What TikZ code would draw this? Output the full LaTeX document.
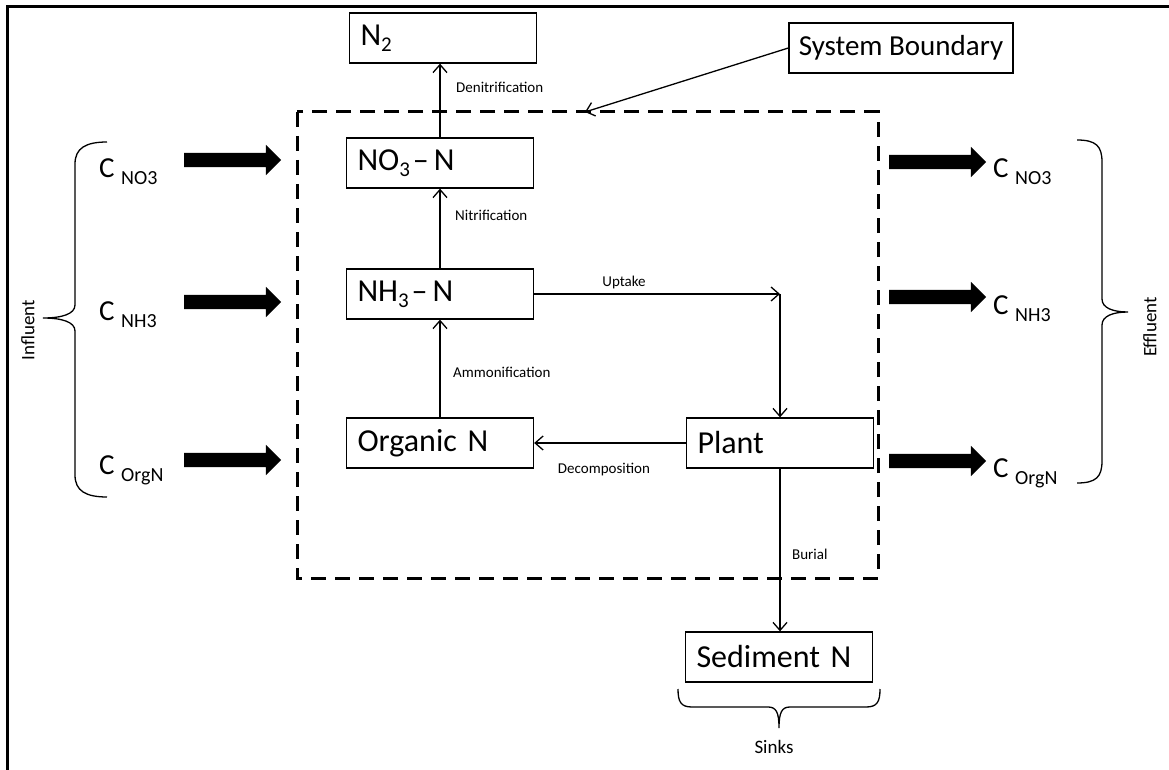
\documentclass[tikz,border=0pt]{standalone}
\usepackage{fontspec}
\setmainfont{Carlito}
\usepackage{tikz}
\usetikzlibrary{arrows.meta,positioning,shapes.arrows}
\newcommand{\nitlow}[1]{\raisebox{-6pt}{\fontsize{21}{21}\selectfont #1}}
\newcommand{\nitconc}[1]{C {\fontsize{20}{20}\selectfont\raisebox{-7pt}{#1}}}
\tikzset{%
  nitbox/.style={%
    draw,
    line width=1.3pt,
    minimum height=50pt,
    text width=165pt,
    inner xsep=11pt,
    align=left,
    font=\fontsize{32}{38}\selectfont
  },
  nitnote/.style={%
    draw,
    line width=1.3pt,
    minimum height=50pt,
    minimum width=224pt,
    align=center,
    font=\fontsize{29}{34}\selectfont
  },
  nitlabel/.style={font=\fontsize{15}{18}\selectfont, inner sep=0pt},
  nitside/.style={font=\fontsize{19}{22}\selectfont, inner sep=0pt},
  nitconcstyle/.style={anchor=base west, inner sep=0pt, font=\fontsize{29}{33}\selectfont},
  nitflow/.style={%
    single arrow,
    fill=black,
    draw=none,
    inner xsep=0pt,
    inner ysep=7pt,
    minimum height=97pt,
    single arrow head extend=8pt
  },
  nitarrow/.style={-{Straight Barb[length=8pt,width=14pt]},line width=1.3pt},
  nitbound/.style={line width=3pt,dash pattern=on 15pt off 9pt},
  nitbrace/.style={line width=1.3pt}
}
\begin{document}
\begin{tikzpicture}[x=1pt,y=-1pt]
    \fill[white] (0,0) rectangle (1169,770);
    \useasboundingbox (0,0) rectangle (1169,770);
    \draw[line width=3pt] (7,770) -- (7,7) -- (1169,7);

    % boundary
    \draw[nitbound] (297,112) rectangle (878,578);

    % pools
    \node[nitbox] (n2) at (443,38) {N\nitlow{2}};
    \node[nitbox] (no3) at (440,163) {NO\nitlow{3}\hspace{3pt}--\hspace{5pt}N};
    \node[nitbox] (nh3) at (440,294) {NH\nitlow{3}\hspace{3pt}--\hspace{5pt}N};
    \node[nitbox] (orgn) at (440,443) {Organic N};
    \node[nitbox] (plant) at (780,443) {Plant};
    \node[nitbox] (sediment) at (779,657) {Sediment N};
    \node[nitnote] (sysb) at (901,48) {System Boundary};

    % processes
    \draw[nitarrow] (no3.north) -- (no3.north |- n2.south);
    \draw[nitarrow] (nh3) -- (no3);
    \draw[nitarrow] (orgn) -- (nh3);
    \coordinate (upbend) at (nh3.east -| plant.north);
    \draw[nitarrow] (nh3.east) -- (upbend);
    \draw[nitarrow] (upbend) -- (plant.north);
    \draw[nitarrow] (plant.west) -- (orgn.east);
    \draw[nitarrow] (plant.south) -- (plant.south |- sediment.north);
    \coordinate (bndhit) at (585,112);
    \draw[nitarrow] (sysb.west) -- (bndhit);

    \node[nitlabel,anchor=west] (dentxt) at (456,87) {Denitrification};
    \node[nitlabel,anchor=west] (nittxt) at (455,215) {Nitrification};
    \node[nitlabel,anchor=west] (ammtxt) at (453,372) {Ammonification};
    \node[nitlabel] (upttxt) at (624,282) {Uptake};
    \node[nitlabel] (dectxt) at (604,470) {Decomposition};
    \node[nitlabel,anchor=west] (burtxt) at (792,554) {Burial};

    % influent
    \node[nitconcstyle] (cno3in) at (99,178) {\nitconc{NO3}};
    \node[nitconcstyle] (cnh3in) at (99,320) {\nitconc{NH3}};
    \node[nitconcstyle] (corgnin) at (99,474) {\nitconc{OrgN}};
    \node[nitflow] (no3in) at (229,160) {};
    \node[nitflow] (nh3in) at (229,302) {};
    \node[nitflow] (orgnin) at (229,460) {};
    \draw[nitbrace] (107,142) .. controls (86,142) and (75,148) .. (75,164) -- (75,305)
      .. controls (75,314) and (62,318) .. (43,318) .. controls (62,318) and (75,322) .. (75,331)
      -- (75,475) .. controls (75,491) and (86,497) .. (107,497);
    \node[nitside,rotate=90] (influent) at (28,330) {Influent};

    % effluent
    \node[nitflow] (no3out) at (934,162) {};
    \node[nitflow] (nh3out) at (934,297) {};
    \node[nitflow] (orgnout) at (934,461) {};
    \node[nitconcstyle] (cno3out) at (993,178) {\nitconc{NO3}};
    \node[nitconcstyle] (cnh3out) at (993,314) {\nitconc{NH3}};
    \node[nitconcstyle] (corgnout) at (993,477) {\nitconc{OrgN}};
    \draw[nitbrace] (1077,140) .. controls (1096,140) and (1102,146) .. (1102,162) -- (1102,299)
      .. controls (1102,308) and (1113,312) .. (1128,312) .. controls (1113,312) and (1102,316) .. (1102,325)
      -- (1102,461) .. controls (1102,477) and (1096,483) .. (1077,483);
    \node[nitside,rotate=90] (effluent) at (1150,327) {Effluent};

    % sinks
    \draw[nitbrace] (678,689) .. controls (678,702) and (681,707) .. (692,707) -- (768,707)
      .. controls (776,707) and (779,712) .. (779,728) .. controls (779,712) and (782,707) .. (790,707)
      -- (866,707) .. controls (877,707) and (880,702) .. (880,689);
    \node[nitside] (sinks) at (774,747) {Sinks};
\end{tikzpicture}
\end{document}
